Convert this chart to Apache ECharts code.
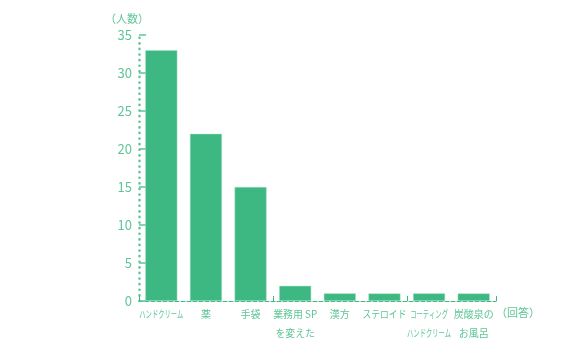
<!DOCTYPE html>
<html>
<head>
<meta charset="utf-8">
<script src="https://cdn.jsdelivr.net/npm/echarts@6/dist/echarts.min.js"></script>
<style>
html, body { margin: 0; padding: 0; background: #fff; }
#chart { width: 577px; height: 352px; }
</style>
</head>
<body>
<div id="chart"></div>
<script>
const categories = ['ハンドクリーム', '薬', '手袋', '業務用 SP\nを変えた', '漢方', 'ステロイド', 'コーティング\nハンドクリーム', '炭酸泉の\nお風呂']
const counts = [33, 22, 15, 2, 1, 1, 1, 1]
const yTicks = [0, 5, 10, 15, 20, 25, 30, 35]

const barColor = '#3db882'
const textColor = '#5ec597'
const fontFamily = '"Noto Sans CJK JP", "Noto Sans", sans-serif'
const labelFont = '10px ' + fontFamily

// the original font has narrow katakana, so squeeze long labels a bit
const measure = document.createElement('canvas').getContext('2d')
measure.font = labelFont
function labelScale(text) {
    const w = Math.max(...text.split('\n').map(s => measure.measureText(s).width))
    return Math.min(1, 44 / w)
}

const chart = echarts.init(document.getElementById('chart'))
chart.setOption({
    animation: false,
    textStyle: { fontFamily: fontFamily },
    grid: { left: 139, right: 81, top: 35, bottom: 51, containLabel: false },
    xAxis: {
        type: 'category',
        data: categories,
        name: '（回答）',
        nameLocation: 'end',
        nameGap: 0,
        nameTextStyle: { color: textColor, fontSize: 11, verticalAlign: 'top', padding: [6, 0, 0, 0] },
        axisLine: { show: true, lineStyle: { color: barColor, type: [4, 2], width: 1 } },
        axisTick: { show: true, inside: true, length: 5, lineStyle: { color: barColor } },
        axisLabel: { show: false }
    },
    yAxis: {
        type: 'value',
        min: yTicks[0],
        max: yTicks[yTicks.length - 1],
        interval: 5,
        name: '（人数）',
        nameGap: 11,
        nameTextStyle: { color: textColor, fontSize: 11, align: 'right', padding: [0, -10, 0, 0] },
        axisLine: { show: true, lineStyle: { color: textColor, type: [0.1, 5.5], cap: 'round', width: 2.6 } },
        axisTick: { show: true, inside: true, length: 7, lineStyle: { color: textColor, width: 1.5 } },
        axisLabel: { color: textColor, fontSize: 13, margin: 7 },
        splitLine: { show: false }
    },
    series: [
        {
            name: '人数',
            type: 'bar',
            data: counts,
            barWidth: 32,
            itemStyle: { color: barColor, borderColor: '#a8dec4', borderWidth: 0.5 }
        }
    ]
})

// category labels placed from the axis scale
chart.setOption({
    graphic: categories.map((name, i) => {
        const pt = chart.convertToPixel({ xAxisIndex: 0, yAxisIndex: 0 }, [i, 0])
        return {
            type: 'text',
            x: pt[0],
            y: pt[1] + 4,
            scaleX: labelScale(name),
            silent: true,
            style: {
                text: name,
                fill: textColor,
                font: labelFont,
                align: 'center',
                verticalAlign: 'top',
                lineHeight: 19
            }
        }
    })
})
</script>
</body>
</html>
